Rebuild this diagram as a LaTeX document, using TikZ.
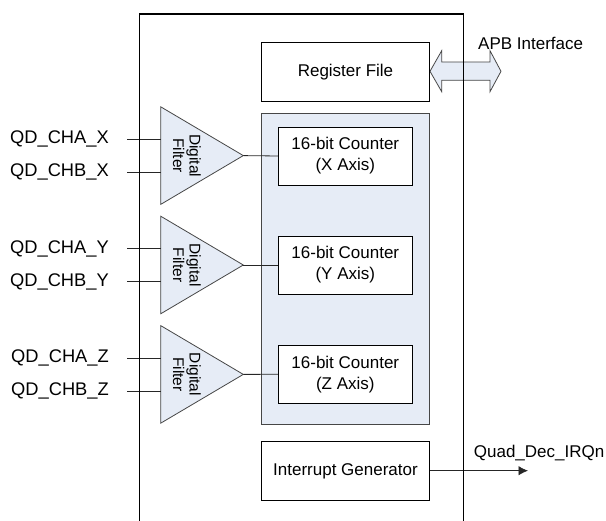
\documentclass[tikz,border=0pt]{standalone}
\usepackage{fontspec}
\setmainfont{Liberation Sans}
\usetikzlibrary{arrows.meta}
\definecolor{lblue}{RGB}{230,236,246}
\definecolor{edge}{RGB}{70,70,70}
\begin{document}
\begin{tikzpicture}[x=1pt,y=-1pt,
  txt/.style={font=\fontsize{17}{20}\selectfont, inner sep=0pt},
  qd/.style={font=\fontsize{18.3}{20}\selectfont, inner sep=0pt},
  blk/.style={draw=black, line width=0.8pt, fill=white, minimum width=167.6pt, minimum height=58.3pt, align=center, font=\fontsize{17}{20}\selectfont},
  cnt/.style={draw=black, line width=0.8pt, fill=white, minimum width=134pt, minimum height=58pt, align=center, font=\fontsize{17}{21}\selectfont},
  filt/.style={draw=edge, line width=0.8pt, fill=lblue},
  wire/.style={line width=0.8pt, draw=black!85}]
\useasboundingbox (0,0) rectangle (606,521);
% container
\node[draw=edge, line width=0.8pt, fill=lblue, minimum width=167.6pt, minimum height=311pt, inner sep=0pt] (cont) at (345.5,268.8) {};
% APB double arrow
\filldraw[filt] (430,71.3) -- (441.7,50.7) -- (441.7,62) -- (490,62) -- (490,50.7) -- (501,71.3)
  -- (490,91.7) -- (490,80.3) -- (441.7,80.3) -- (441.7,91.7) -- cycle;
% register file
\node[blk] (reg) at (345.5,71.8) {Register File};
\node[txt, anchor=west] (apb) at (478,43) {APB Interface};
% counters
\node[cnt] (cx) at (345.3,156) {16-bit Counter\\(X Axis)};
\node[cnt] (cy) at (345.3,265) {16-bit Counter\\(Y Axis)};
\node[cnt] (cz) at (345.3,374.3) {16-bit Counter\\(Z Axis)};
% filters
\foreach \n/\yc in {x/155.6, y/265, z/374.4}{
  \filldraw[filt] (160.7,\yc-48.8) -- (243.3,\yc) -- (160.7,\yc+48.8) -- cycle;
  \coordinate (t\n) at (243.3,\yc);
  \coordinate (ia\n) at (160.7,\yc-16.3);
  \coordinate (ib\n) at (160.7,\yc+16.7);
  \node[txt, rotate=-90, align=center, font=\fontsize{15.5}{16.5}\selectfont] (f\n) at (187,\yc) {Digital\\Filter};
}
\draw[wire] (tx) -- (cx.west);
\draw[wire] (ty) -- (cy.west);
\draw[wire] (tz) -- (cz.west);
% inputs
\foreach \n/\N in {x/X, y/Y, z/Z}{
  \coordinate (sa\n) at (127,0 |- ia\n);
  \coordinate (sb\n) at (127,0 |- ib\n);
  \draw[wire] (sa\n) -- (ia\n);
  \draw[wire] (sb\n) -- (ib\n);
  \node[qd, anchor=east] (la\n) at ([xshift=-18pt]sa\n) {QD\_CHA\_\N};
  \node[qd, anchor=east] (lb\n) at ([xshift=-18pt]sb\n) {QD\_CHB\_\N};
}
% interrupt generator
\node[blk] (irq) at (345.5,471) {Interrupt Generator};
\coordinate (irqend) at (528,470.7);
\draw[wire, -{Latex[length=9.5pt,width=9.5pt]}] (irq.east |- irqend) -- (irqend);
\node[txt, anchor=east] (irql) at (604.5,453) {Quad\_Dec\_IRQn};
% outer box
\draw[line width=1.5pt] (139.3,522) -- (139.3,14) -- (463.3,14) -- (463.3,522);
\end{tikzpicture}
\end{document}
